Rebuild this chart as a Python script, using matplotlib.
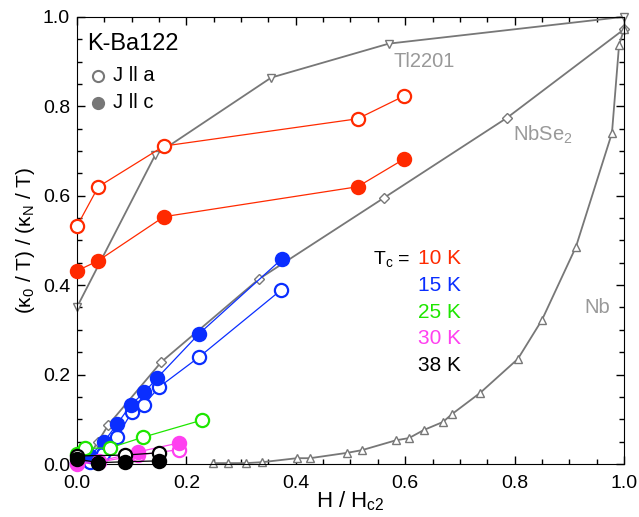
import matplotlib
matplotlib.use("Agg")
import matplotlib.pyplot as plt
from matplotlib.ticker import MultipleLocator

plt.rcParams['font.family'] = ['Liberation Sans', 'DejaVu Sans']
plt.rcParams['mathtext.default'] = 'regular'

# reference superconductors (gray curves)
tl_x = [0.0, 0.143, 0.355, 0.570, 1.0]
tl_y = [0.351, 0.691, 0.864, 0.940, 1.0]

nbse2_x = [0.0, 0.02, 0.038, 0.057, 0.154, 0.333, 0.561, 0.786, 1.0]
nbse2_y = [0.0, 0.015, 0.049, 0.087, 0.228, 0.414, 0.595, 0.774, 0.972]

nb_x = [0.249, 0.276, 0.309, 0.338, 0.402, 0.426, 0.494, 0.521, 0.583, 0.607,
        0.634, 0.669, 0.686, 0.737, 0.806, 0.850, 0.912, 0.978, 0.991, 1.0]
nb_y = [0.002, 0.002, 0.002, 0.004, 0.013, 0.013, 0.025, 0.031, 0.053, 0.058,
        0.076, 0.094, 0.112, 0.159, 0.235, 0.322, 0.485, 0.740, 0.937, 0.972]

# K-Ba122, Tc = 10 K
r_a_x = [0.0, 0.039, 0.159, 0.513, 0.598]
r_a_y = [0.532, 0.620, 0.711, 0.772, 0.823]
r_c_x = [0.0, 0.038, 0.159, 0.513, 0.598]
r_c_y = [0.432, 0.454, 0.553, 0.620, 0.682]

# Tc = 15 K
b_a_x = [0.024, 0.048, 0.073, 0.100, 0.122, 0.150, 0.223, 0.373]
b_a_y = [0.004, 0.022, 0.060, 0.116, 0.132, 0.172, 0.239, 0.389]
b_c_x = [0.0, 0.024, 0.049, 0.073, 0.099, 0.123, 0.147, 0.223, 0.375]
b_c_y = [0.003, 0.019, 0.049, 0.089, 0.133, 0.160, 0.193, 0.291, 0.459]

# Tc = 25 K
g_a_x = [0.0, 0.015, 0.060, 0.121, 0.228]
g_a_y = [0.022, 0.035, 0.036, 0.060, 0.098]

# Tc = 30 K
m_a_x = [0.0, 0.040, 0.111, 0.186]
m_a_y = [0.0, 0.004, 0.020, 0.032]
m_c_x = [0.0, 0.040, 0.111, 0.186]
m_c_y = [0.003, 0.006, 0.027, 0.047]

# Tc = 38 K
k_a_x = [0.0, 0.088, 0.149]
k_a_y = [0.018, 0.020, 0.025]
k_c_x = [0.0, 0.039, 0.088, 0.149]
k_c_y = [0.011, 0.003, 0.005, 0.007]

tc_labels = ['10 K', '15 K', '25 K', '30 K', '38 K']
red = '#ff2a00'
blue = '#0a2eff'
green = '#1ee600'
magenta = '#ff40f0'
black = '#000000'
gray = '#777777'
tc_colors = [red, blue, green, magenta, black]

fig = plt.figure(figsize=(6.39, 5.17), dpi=100)
ax = fig.add_axes([0.1205, 0.1025, 0.856, 0.865])

gkw = dict(color=gray, lw=1.3, ms=6, mfc='white', mec=gray, mew=1.0, clip_on=False, zorder=2)
ax.plot(tl_x, tl_y, marker='v', **gkw)
ax.plot(nbse2_x, nbse2_y, marker='D', **dict(gkw, ms=5))
ax.plot(nb_x, nb_y, marker='^', **gkw)

def series(x, y, c, filled):
    ax.plot(x, y, color=c, lw=0.9, marker='o', ms=9.5,
            mfc=c if filled else 'white', mec=c, mew=1.6, clip_on=False, zorder=3)

series(r_a_x, r_a_y, red, False)
series(r_c_x, r_c_y, red, True)
series(b_a_x, b_a_y, blue, False)
series(b_c_x, b_c_y, blue, True)
series(g_a_x, g_a_y, green, False)
series(m_a_x, m_a_y, magenta, False)
series(m_c_x, m_c_y, magenta, True)
series(k_a_x, k_a_y, black, False)
series(k_c_x, k_c_y, black, True)

ax.set_xlim(0, 1.0)
ax.set_ylim(0, 1.0)
ax.xaxis.set_major_locator(MultipleLocator(0.2))
ax.xaxis.set_minor_locator(MultipleLocator(0.05))
ax.yaxis.set_major_locator(MultipleLocator(0.2))
ax.yaxis.set_minor_locator(MultipleLocator(0.05))
ax.tick_params(which='both', direction='in', top=True, right=True, labelsize=14)
ax.tick_params(which='major', length=6, width=1)
ax.tick_params(which='minor', length=3.5, width=1)
ax.tick_params(axis='x', which='major', pad=8)
ax.tick_params(axis='y', which='major', pad=5)

ax.set_xlabel('H / H$_{c2}$', fontsize=16, labelpad=-2)
ax.set_ylabel('(κ$_0$ / T) / (κ$_N$ / T)', fontsize=15, labelpad=4)

# labels inside the panel
ax.text(0.018, 0.94, 'K-Ba122', fontsize=17, va='center')
ax.plot([0.038], [0.868], 'o', ms=8, mfc='white', mec=gray, mew=1.5)
ax.plot([0.038], [0.808], 'o', ms=8, mfc=gray, mec=gray, mew=1.5)
ax.text(0.066, 0.868, 'J ll a', fontsize=14.5, va='center')
ax.text(0.066, 0.808, 'J ll c', fontsize=14.5, va='center')

ax.text(0.634, 0.90, 'Tl2201', fontsize=14.5, color='#999999', ha='center', va='center')
ax.text(0.797, 0.735, 'NbSe$_2$', fontsize=14.5, color='#999999', va='center')
ax.text(0.952, 0.35, 'Nb', fontsize=14.5, color='#999999', ha='center', va='center')

ax.text(0.610, 0.459, 'T$_c$ =', fontsize=14, ha='right', va='center')
for i, (lab, c) in enumerate(zip(tc_labels, tc_colors)):
    ax.text(0.623, 0.459 - i * 0.0597, lab, fontsize=15, color=c, va='center')

fig.savefig('out.png', dpi=100)
